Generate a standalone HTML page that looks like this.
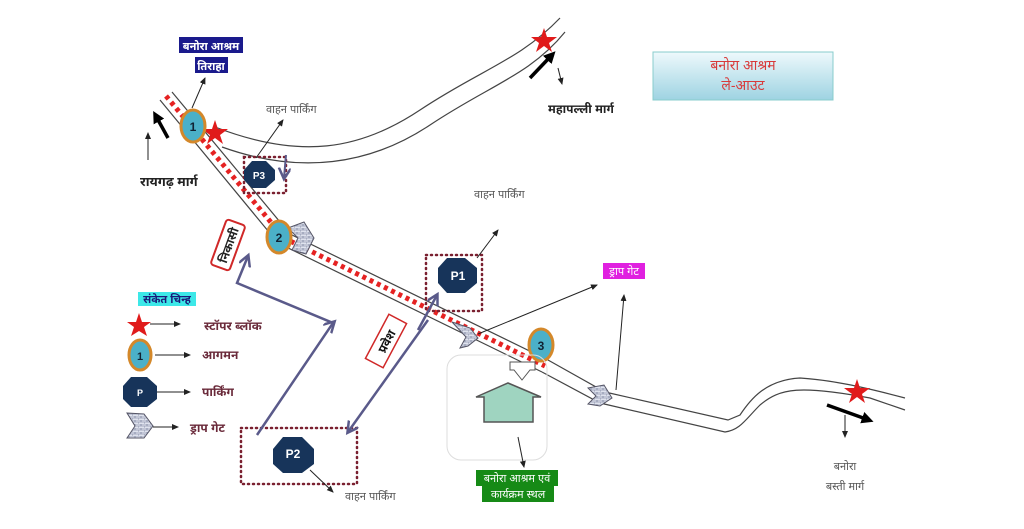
<!DOCTYPE html>
<html><head><meta charset="utf-8"><style>
html,body{margin:0;padding:0;background:#fff;width:1024px;height:529px;overflow:hidden}
svg text{font-family:"Liberation Sans","Noto Sans Devanagari","Lohit Devanagari",sans-serif}
</style></head><body>
<svg width="1024" height="529" viewBox="0 0 1024 529" xmlns="http://www.w3.org/2000/svg">
<defs>
<marker id="a" markerUnits="userSpaceOnUse" markerWidth="8" markerHeight="8" refX="6" refY="3" orient="auto"><path d="M0,0L7,3L0,6z" fill="#222"/></marker>
<marker id="b" markerUnits="userSpaceOnUse" markerWidth="14" markerHeight="14" refX="4" refY="6" orient="auto"><path d="M0,0L12,6L0,12z" fill="#000"/></marker>
<marker id="p" markerUnits="userSpaceOnUse" markerWidth="14" markerHeight="14" refX="10" refY="6" orient="auto"><path d="M0,0L11,6L0,12" fill="none" stroke="#5a5a8a" stroke-width="2.5"/></marker>
<pattern id="br" width="6" height="4" patternUnits="userSpaceOnUse"><rect width="6" height="4" fill="#dfe3ee"/><path d="M0,0H6M0,2H6M3,0V2M0,2V4" stroke="#6a7290" stroke-width="0.6"/></pattern>
<linearGradient id="tg" x1="0" y1="0" x2="0" y2="1"><stop offset="0" stop-color="#eef9fc"/><stop offset="1" stop-color="#9ed3e2"/></linearGradient>
</defs>
<!-- upper road -->
<path d="M215,127 C300,160 360,150 420,110 C480,70 520,60 560,18" fill="none" stroke="#444" stroke-width="1.2"/>
<path d="M222,147 C300,175 370,165 430,125 C490,85 530,75 565,32" fill="none" stroke="#444" stroke-width="1.2"/>
<!-- main diagonal road -->
<polyline points="160,100 278,243 542,372" fill="none" stroke="#444" stroke-width="1.2"/>
<polyline points="172,92 290,234 548,360" fill="none" stroke="#444" stroke-width="1.2"/>
<polyline points="166,96 284,238 545,366" fill="none" stroke="#e52222" stroke-width="5" stroke-dasharray="4,4"/>
<!-- lower road -->
<path d="M542,372 L600,403 L725,432 C740,430 745,420 760,405 C780,388 800,385 870,398 L905,410" fill="none" stroke="#444" stroke-width="1.2"/>
<path d="M548,360 L605,392 L728,420 L740,415 C750,400 765,380 800,378 C830,380 860,386 905,398" fill="none" stroke="#444" stroke-width="1.2"/>
<!-- stars -->
<polygon points="215,120 218,129 228,129 220,135 223,144 215,138 207,144 210,135 202,129 212,129" fill="#e01b1b"/>
<polygon points="544,28 547,37 557,37 549,43 552,52 544,46 536,52 539,43 531,37 541,37" fill="#e01b1b"/>
<polygon points="857,379 860,388 870,388 862,394 865,403 857,397 849,403 852,394 844,388 854,388" fill="#e01b1b"/>
<!-- direction arrows -->
<path d="M168,138 L157,118" stroke="#000" stroke-width="3.5" marker-end="url(#b)"/>
<path d="M530,78 L550,57" stroke="#000" stroke-width="3.5" marker-end="url(#b)"/>
<path d="M827,405 L866,419" stroke="#000" stroke-width="3.5" marker-end="url(#b)"/>
<path d="M148,160 L148,133" stroke="#222" marker-end="url(#a)"/>
<path d="M558,68 L562,84" stroke="#222" marker-end="url(#a)"/>
<path d="M845,415 L845,437" stroke="#222" marker-end="url(#a)"/>
<!-- top-left label -->
<rect x="179" y="37" width="64" height="16" fill="#1a1a8c"/><text x="211" y="50" font-size="11" fill="#fff" text-anchor="middle" font-weight="bold">बनोरा आश्रम</text>
<rect x="195" y="57" width="33" height="16" fill="#1a1a8c"/><text x="211" y="70" font-size="11" fill="#fff" text-anchor="middle" font-weight="bold">तिराहा</text>
<path d="M192,108 L205,78" stroke="#222" marker-end="url(#a)"/>
<text x="140" y="186" font-size="13" fill="#222" font-weight="bold">रायगढ़ मार्ग</text>
<text x="548" y="113" font-size="12" fill="#222" font-weight="bold">महापल्ली मार्ग</text>
<!-- title box -->
<rect x="653" y="52" width="180" height="48" fill="url(#tg)" stroke="#8cc" stroke-width="1"/>
<text x="743" y="70" font-size="14" fill="#d83a3a" text-anchor="middle">बनोरा आश्रम</text>
<text x="743" y="90" font-size="14" fill="#d83a3a" text-anchor="middle">ले-आउट</text>
<!-- circles -->
<ellipse cx="193" cy="126" rx="12" ry="16" fill="#4bb0c8" stroke="#d4882a" stroke-width="3"/><text x="193" y="131" font-size="12" font-weight="bold" text-anchor="middle" fill="#123">1</text>
<polygon points="288,228 304,222 314,238 306,254 292,250 298,238" fill="url(#br)" stroke="#556"/>
<ellipse cx="279" cy="237" rx="12" ry="16" fill="#4bb0c8" stroke="#d4882a" stroke-width="3"/><text x="279" y="242" font-size="12" font-weight="bold" text-anchor="middle" fill="#123">2</text>
<ellipse cx="541" cy="345" rx="12" ry="16" fill="#4bb0c8" stroke="#d4882a" stroke-width="3"/><text x="541" y="350" font-size="12" font-weight="bold" text-anchor="middle" fill="#123">3</text>
<!-- gates -->
<polygon points="452,322 470,328 478,338 468,346 460,348 466,337" fill="url(#br)" stroke="#556"/>
<polygon points="588,388 604,385 612,398 600,406 588,404 596,396" fill="url(#br)" stroke="#556"/>
<!-- P3 -->
<rect x="244" y="157" width="42" height="36" fill="none" stroke="#7a2030" stroke-width="2.5" stroke-dasharray="1,4" stroke-linecap="round"/>
<polygon points="252,161 266,161 275,170 275,180 266,188 252,188 244,180 244,170" fill="#17345a"/><text x="259" y="179" font-size="10" fill="#fff" font-weight="bold" text-anchor="middle" font-family="Liberation Serif">P3</text>
<path d="M286,155 L284,178" stroke="#5a5a8a" stroke-width="2" marker-end="url(#p)"/>
<path d="M256,158 L283,120" stroke="#222" marker-end="url(#a)"/>
<text x="266" y="113" font-size="11" fill="#555">वाहन पार्किंग</text>
<!-- P1 -->
<rect x="426" y="255" width="56" height="56" fill="none" stroke="#7a2030" stroke-width="2.5" stroke-dasharray="1,4" stroke-linecap="round"/>
<polygon points="447,258 465,258 477,268 477,283 465,293 447,293 438,283 438,268" fill="#17345a"/><text x="458" y="280" font-size="12" fill="#fff" font-weight="bold" text-anchor="middle" font-family="Liberation Serif">P1</text>
<path d="M477,258 L498,230" stroke="#222" marker-end="url(#a)"/>
<text x="474" y="198" font-size="11" fill="#555">वाहन पार्किंग</text>
<!-- P2 -->
<rect x="241" y="428" width="116" height="56" fill="none" stroke="#7a2030" stroke-width="2.5" stroke-dasharray="1,4" stroke-linecap="round"/>
<polygon points="283,437 302,437 314,449 314,464 302,473 283,473 273,464 273,449" fill="#17345a"/><text x="293" y="458" font-size="12" fill="#fff" font-weight="bold" text-anchor="middle" font-family="Liberation Serif">P2</text>
<path d="M310,470 L333,492" stroke="#222" marker-end="url(#a)"/>
<text x="345" y="500" font-size="11" fill="#555">वाहन पार्किंग</text>
<!-- purple routes -->
<polyline points="257,435 333,323 237,283 248,256" fill="none" stroke="#5a5a8a" stroke-width="2.5" marker-end="url(#p)"/>
<path d="M333,323 L334,322" stroke="#5a5a8a" stroke-width="2.5" marker-end="url(#p)"/>
<path d="M428,320 L348,432" stroke="#5a5a8a" stroke-width="2.5" marker-end="url(#p)"/>
<path d="M418,330 L437,295" stroke="#5a5a8a" stroke-width="2.5" marker-end="url(#p)"/>
<!-- निकासी / प्रवेश -->
<g transform="translate(228,245) rotate(-70)"><rect x="-24" y="-10" width="48" height="20" rx="3" fill="#fff" stroke="#d02828" stroke-width="2"/><text x="0" y="5" font-size="12" text-anchor="middle" fill="#222" font-weight="bold">निकासी</text></g>
<g transform="translate(386,341) rotate(-62)"><rect x="-25" y="-10" width="50" height="20" fill="#fff" stroke="#d02828" stroke-width="1.5"/><text x="0" y="5" font-size="12" text-anchor="middle" fill="#111" font-weight="bold">प्रवेश</text></g>
<!-- drop gate label -->
<path d="M478,334 L597,285" stroke="#222" marker-end="url(#a)"/>
<path d="M616,390 L624,295" stroke="#222" marker-end="url(#a)"/>
<rect x="603" y="263" width="42" height="16" fill="#e020e0"/><text x="624" y="275" font-size="11" fill="#fff" text-anchor="middle">ड्राप गेट</text>
<!-- ashram -->
<rect x="447" y="355" width="100" height="105" rx="14" fill="none" stroke="#ddd" stroke-width="1"/>
<path d="M510,362 L535,362 L535,370 L530,370 L522,380 L514,370 L510,370z" fill="#fff" stroke="#555"/>
<path d="M476,397 L508,383 L541,397 L533,397 L533,422 L484,422 L484,397z" fill="#9fd4c0" stroke="#555" stroke-width="1.5"/>
<path d="M518,437 L524,467" stroke="#222" marker-end="url(#a)"/>
<rect x="476" y="470" width="82" height="16" fill="#168a16"/><text x="517" y="482" font-size="11" fill="#fff" text-anchor="middle">बनोरा आश्रम एवं</text>
<rect x="482" y="486" width="72" height="16" fill="#168a16"/><text x="518" y="498" font-size="11" fill="#fff" text-anchor="middle">कार्यक्रम स्थल</text>
<text x="845" y="470" font-size="11" fill="#555" text-anchor="middle">बनोरा</text>
<text x="845" y="490" font-size="11" fill="#555" text-anchor="middle">बस्ती मार्ग</text>
<!-- legend -->
<rect x="138" y="292" width="58" height="14" fill="#3de8e8"/><text x="167" y="303" font-size="11" fill="#1a1a7a" text-anchor="middle" font-weight="bold">संकेत चिन्ह</text>
<polygon points="139,313 142,322 151,322 144,327 147,336 139,331 131,336 134,327 127,322 136,322" fill="#e01b1b"/>
<path d="M150,324 L180,324" stroke="#222" marker-end="url(#a)"/>
<text x="204" y="330" font-size="12" fill="#6a2a3a" font-weight="bold">स्टॉपर ब्लॉक</text>
<ellipse cx="140" cy="355" rx="11" ry="15" fill="#4bb0c8" stroke="#d4882a" stroke-width="3"/><text x="140" y="360" font-size="11" font-weight="bold" text-anchor="middle" fill="#123">1</text>
<path d="M155,355 L190,355" stroke="#222" marker-end="url(#a)"/>
<text x="202" y="359" font-size="12" fill="#6a2a3a" font-weight="bold">आगमन</text>
<polygon points="131,377 147,377 157,386 157,399 147,407 131,407 123,399 123,386" fill="#17345a"/><text x="140" y="396" font-size="9" fill="#fff" font-weight="bold" text-anchor="middle" font-family="Liberation Serif">P</text>
<path d="M157,392 L190,392" stroke="#222" marker-end="url(#a)"/>
<text x="202" y="396" font-size="12" fill="#6a2a3a" font-weight="bold">पार्किंग</text>
<polygon points="127,413 144,414 153,426 144,438 127,438 135,426" fill="url(#br)" stroke="#556"/>
<path d="M153,427 L178,427" stroke="#222" marker-end="url(#a)"/>
<text x="190" y="432" font-size="12" fill="#6a2a3a" font-weight="bold">ड्राप गेट</text>
</svg>
</body></html>
